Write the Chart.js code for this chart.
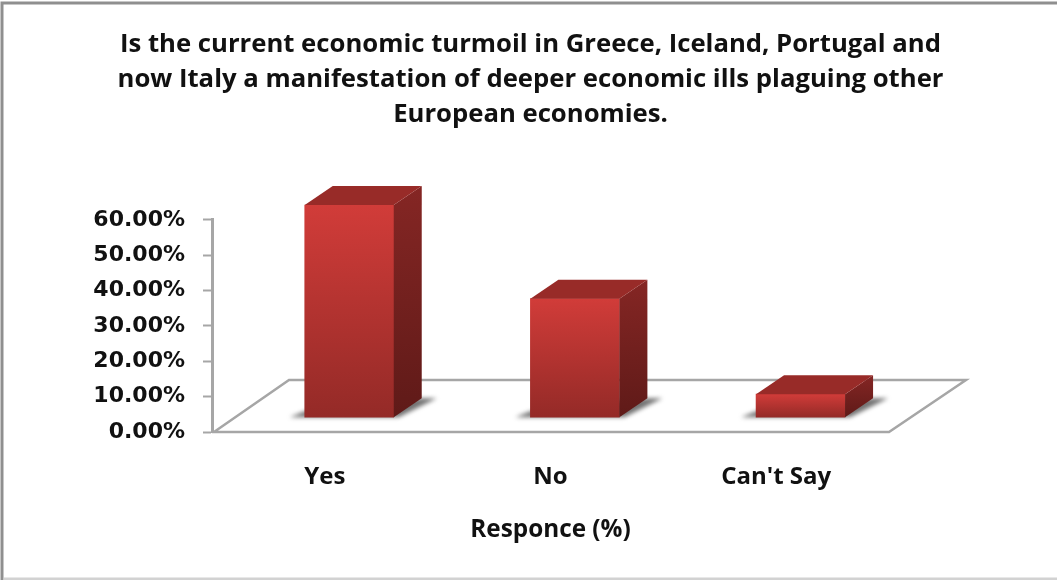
<!DOCTYPE html>
<html>
<head>
<meta charset="utf-8">
<style>
  html, body { margin: 0; padding: 0; background: #fff; }
  #wrap { width: 1057px; height: 580px; }
</style>
<script src="https://cdn.jsdelivr.net/npm/chart.js@4"></script>
</head>
<body>
<div id="wrap"><canvas id="chart" width="1057" height="580"></canvas></div>
<script>
const titleLines = [
  'Is the current economic turmoil in Greece, Iceland, Portugal and',
  'now Italy a manifestation of deeper economic ills plaguing other',
  'European economies.'
];
const categories = ['Yes', 'No', "Can't Say"];
const responses = [60, 33.5, 6.5];
const axisTitle = 'Responce (%)';
const FONT = '"Open Sans", Lato, sans-serif';
const TICK_FONT = '"DejaVu Sans", "Open Sans", sans-serif';

// Receding direction of the 3D box and of the floor
const depth = { dx: 28, dy: -19 };
const floor = { dx: 77, dy: -52 };
// The bars stand on the middle of the floor: this is their shift from the axis origin
const standX = 24.4 / 225.67;      // in category units
const standY = 15 / 3.567;         // in percentage points

const threeD = {
  id: 'threeD',
  beforeDraw(chart) {
    const { ctx, width, height } = chart;
    ctx.save();
    ctx.lineWidth = 3;
    ctx.strokeStyle = '#8f8f8f';
    ctx.beginPath();
    ctx.moveTo(width, 3);
    ctx.lineTo(2, 3);
    ctx.lineTo(2, height);
    ctx.stroke();
    ctx.strokeStyle = '#d2d2d2';
    ctx.beginPath();
    ctx.moveTo(4, height - 1);
    ctx.lineTo(width, height - 1);
    ctx.stroke();
    ctx.restore();
  },
  beforeDatasetsDraw(chart) {
    const { ctx, chartArea: a } = chart;
    ctx.save();
    // floor plane
    ctx.strokeStyle = '#a6a6a6';
    ctx.lineWidth = 2.5;
    ctx.beginPath();
    ctx.moveTo(a.left + 2, a.bottom);
    ctx.lineTo(a.left + floor.dx, a.bottom + floor.dy);
    ctx.lineTo(a.right + floor.dx, a.bottom + floor.dy);
    ctx.lineTo(a.right, a.bottom);
    ctx.lineTo(a.left, a.bottom);
    ctx.stroke();
    // soft contact shadows on the floor
    chart.getDatasetMeta(0).data.forEach(bar => {
      const l = bar.x - bar.width / 2, r = bar.x + bar.width / 2, b = bar.base;
      ctx.save();
      ctx.filter = 'blur(2px)';
      ctx.fillStyle = 'rgba(80,80,80,0.8)';
      ctx.beginPath();
      ctx.moveTo(l - 15, b);
      ctx.lineTo(l, b - 6);
      ctx.lineTo(r + depth.dx, b + depth.dy);
      ctx.lineTo(r + depth.dx + 15, b + depth.dy);
      ctx.lineTo(r + 5, b);
      ctx.closePath();
      ctx.fill();
      ctx.restore();
    });
    ctx.restore();
  },
  afterDatasetsDraw(chart) {
    const { ctx } = chart;
    chart.getDatasetMeta(0).data.forEach(bar => {
      const l = bar.x - bar.width / 2, r = bar.x + bar.width / 2;
      const t = bar.y, b = bar.base;
      ctx.save();
      // side face
      const side = ctx.createLinearGradient(0, t + depth.dy, 0, b);
      side.addColorStop(0, '#852624');
      side.addColorStop(1, '#5f1a18');
      ctx.fillStyle = side;
      ctx.beginPath();
      ctx.moveTo(r, t);
      ctx.lineTo(r + depth.dx, t + depth.dy);
      ctx.lineTo(r + depth.dx, b + depth.dy);
      ctx.lineTo(r, b);
      ctx.closePath();
      ctx.fill();
      // top face
      ctx.fillStyle = '#982b28';
      ctx.beginPath();
      ctx.moveTo(l, t);
      ctx.lineTo(l + depth.dx, t + depth.dy);
      ctx.lineTo(r + depth.dx, t + depth.dy);
      ctx.lineTo(r, t);
      ctx.closePath();
      ctx.fill();
      ctx.restore();
    });
  }
};

// Each front face carries a vertical gradient over its own height
function frontFace(context) {
  const scale = context.chart.scales.yBars;
  if (!scale || !context.raw) return '#b5302d';
  const top = scale.getPixelForValue(context.raw.y);
  const base = scale.getPixelForValue(0);
  if (!Number.isFinite(top) || !Number.isFinite(base)) return '#b5302d';
  const g = context.chart.ctx.createLinearGradient(0, top, 0, base);
  g.addColorStop(0, '#d13c39');
  g.addColorStop(1, '#942a27');
  return g;
}

new Chart(document.getElementById('chart'), {
  type: 'bar',
  data: {
    labels: categories,
    datasets: [{
      data: responses.map((v, i) => ({ x: i, y: v })),
      xAxisID: 'xBars',
      yAxisID: 'yBars',
      backgroundColor: frontFace,
      barThickness: 89,
      clip: false
    }]
  },
  plugins: [threeD],
  options: {
    responsive: false,
    animation: false,
    events: [],
    layout: { padding: { left: 4, right: 0, top: 0, bottom: 0 } },
    plugins: {
      legend: { display: false },
      tooltip: { enabled: false },
      title: {
        display: true,
        text: titleLines,
        color: '#111',
        font: { family: FONT, size: 25.7, weight: 'bold', lineHeight: 1.36 },
        padding: { top: 27, bottom: 88 },
        align: 'center',
        fullSize: true
      }
    },
    scales: {
      x: {
        type: 'category',
        position: 'bottom',
        afterFit(s) { s.height = 148; },
        grid: { display: false },
        border: { display: false },
        ticks: { color: '#111', padding: 23, maxRotation: 0, font: { family: FONT, size: 24, weight: 'bold' } },
        title: {
          display: true, text: axisTitle, color: '#111',
          font: { family: FONT, size: 24.3, weight: 'bold' },
          padding: { top: 10, bottom: 35 }
        }
      },
      y: {
        min: 0, max: 60,
        position: 'left',
        afterFit(s) { s.width = 208; },
        grid: { drawOnChartArea: false, drawTicks: true, tickLength: 9, tickColor: '#a6a6a6', tickWidth: 2 },
        border: { color: '#a6a6a6', width: 3 },
        ticks: {
          stepSize: 10, color: '#111', padding: 18,
          font: { family: TICK_FONT, size: 22, weight: 'bold' },
          callback: v => v.toFixed(2) + '%'
        }
      },
      xBars: {
        type: 'linear', display: false, position: 'bottom', bounds: 'data', offset: false,
        min: -0.5 - standX, max: 2.5 - standX
      },
      // Shares the plot height with the visible axis; its blank column reserves the right margin
      yBars: {
        position: 'right', bounds: 'data',
        afterFit(s) { s.width = 168; },
        grid: { display: false },
        border: { display: false },
        ticks: { display: false },
        min: -standY, max: 60 - standY
      }
    }
  }
});
</script>
</body>
</html>
